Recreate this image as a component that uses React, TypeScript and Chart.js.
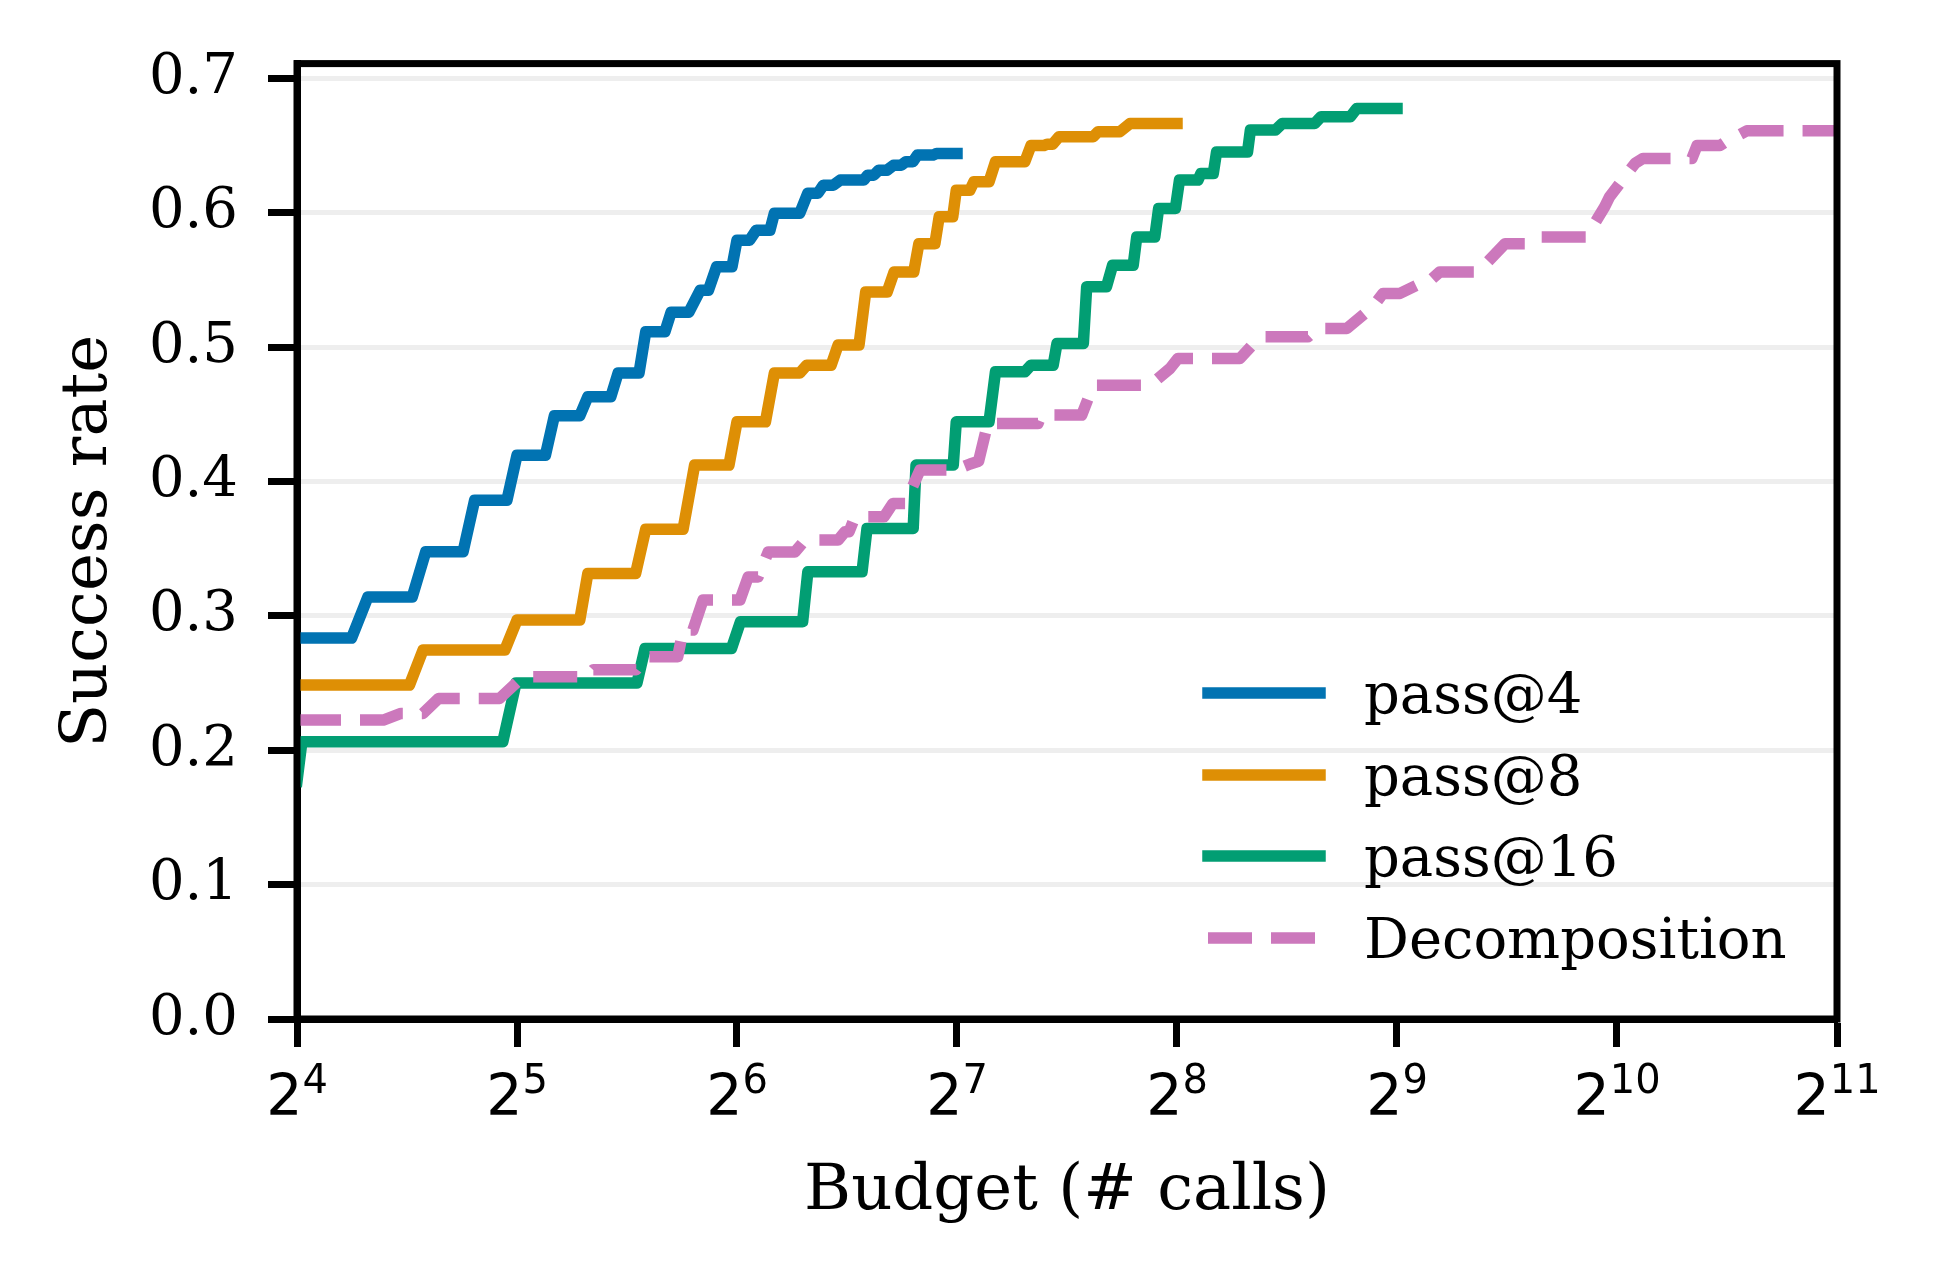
import React, { useEffect, useRef } from 'react';
import { Chart, registerables } from 'chart.js';

Chart.register(...registerables);

const W = 1940;
const H = 1284;
const SERIF = "'DejaVu Serif', serif";
const SANS = "'DejaVu Sans', sans-serif";

// ---- data ----
const xTickValues = [16, 32, 64, 128, 256, 512, 1024, 2048];
const yTickValues = [0, 0.1, 0.2, 0.3, 0.4, 0.5, 0.6, 0.7];
const xAxisTitle = 'Budget (# calls)';
const yAxisTitle = 'Success rate';
const seriesNames = ['pass@4', 'pass@8', 'pass@16', 'Decomposition'];
const seriesColors = ['#0173b2', '#de8f05', '#029e73', '#cc78bc'];

const pass4Budget = [16, 19, 20, 23, 24, 27, 28, 31, 32, 35, 36, 39, 40, 43, 44, 47, 48, 51, 52, 55, 57, 58.5, 60, 63, 64, 66.6, 68, 71, 72, 78, 80, 82.6, 84, 86.7, 88.6, 95.4, 96.6, 98.5, 100, 102.7, 104.8, 107.4, 109, 111.4, 113, 118.7, 120, 128];
const pass4Rate = [0.2835, 0.2835, 0.314, 0.314, 0.3477, 0.3477, 0.386, 0.386, 0.4196, 0.4196, 0.449, 0.449, 0.463, 0.463, 0.4807, 0.4807, 0.5114, 0.5114, 0.526, 0.526, 0.5424, 0.5424, 0.5598, 0.5598, 0.5796, 0.5796, 0.587, 0.587, 0.5997, 0.5997, 0.6146, 0.6146, 0.6205, 0.6205, 0.6243, 0.6243, 0.628, 0.628, 0.6317, 0.6317, 0.6354, 0.6354, 0.638, 0.638, 0.6429, 0.6429, 0.6441, 0.6441];

const pass8Budget = [16, 22.8, 23.8, 30.8, 32, 39, 40, 46.5, 48, 54, 56, 62.4, 64, 70, 72, 78, 79.7, 86.1, 88, 94, 96, 102.7, 105, 111.7, 113.5, 119.4, 121, 126.3, 127.7, 133.3, 135, 141.6, 144.5, 158.5, 161.6, 168.4, 170, 173, 176.5, 196.6, 199.6, 213.7, 220.8, 256];
const pass8Rate = [0.2485, 0.2485, 0.2746, 0.2746, 0.2969, 0.2969, 0.3316, 0.3316, 0.3645, 0.3645, 0.4122, 0.4122, 0.4444, 0.4444, 0.4807, 0.4807, 0.4866, 0.4866, 0.5015, 0.5015, 0.541, 0.541, 0.556, 0.556, 0.577, 0.577, 0.597, 0.597, 0.6168, 0.6168, 0.623, 0.623, 0.638, 0.638, 0.65, 0.65, 0.651, 0.651, 0.6565, 0.6565, 0.6602, 0.6602, 0.6664, 0.6664];

const pass16Budget = [16, 16.25, 30.6, 31.9, 46.7, 47.9, 62.9, 64.7, 78.7, 80, 94.9, 96.4, 111.5, 112.5, 126.5, 127.7, 141.6, 144.5, 158.5, 161.6, 173.3, 175.4, 190.6, 192.6, 205, 209, 223, 225.5, 238.7, 241.6, 254.7, 258, 273.5, 276, 287, 290, 319.7, 322.6, 349, 356.5, 395, 403, 442, 451, 512];
const pass16Rate = [0.177, 0.2064, 0.2064, 0.25, 0.25, 0.2758, 0.2758, 0.2956, 0.2956, 0.3328, 0.3328, 0.3651, 0.3651, 0.4122, 0.4122, 0.4444, 0.4444, 0.4816, 0.4816, 0.4866, 0.4866, 0.5027, 0.5027, 0.5449, 0.5449, 0.561, 0.561, 0.582, 0.582, 0.6032, 0.6032, 0.6243, 0.6243, 0.6292, 0.6292, 0.6453, 0.6453, 0.6615, 0.6615, 0.6664, 0.6664, 0.6714, 0.6714, 0.6776, 0.6776];

const decompBudget = [16, 21, 22.2, 23.8, 25, 30.3, 32.6, 39.9, 40.7, 46.6, 48, 53.1, 54, 55.7, 57.5, 64.6, 66.3, 68.4, 70.6, 76.8, 79.3, 88, 89.9, 91.1, 92.8, 101.7, 104.6, 108.7, 113.9, 127.2, 133.4, 137, 141, 165.2, 167, 189.6, 196.7, 235.2, 250.4, 256.8, 312.2, 332.5, 386.8, 397.9, 437.3, 474.7, 489.9, 516.8, 545.3, 559, 586, 660.8, 719.5, 773.6, 798, 930, 985, 1000, 1083.8, 1111.5, 1296.8, 1317.6, 1416.5, 1475.5, 1488, 1542, 2048];
const decompRate = [0.2225, 0.2225, 0.2274, 0.2274, 0.2386, 0.2386, 0.2547, 0.2547, 0.26, 0.26, 0.2696, 0.2696, 0.2894, 0.2894, 0.3118, 0.3118, 0.329, 0.329, 0.3475, 0.3475, 0.3564, 0.3564, 0.3626, 0.3626, 0.3737, 0.3737, 0.3837, 0.3837, 0.4085, 0.4085, 0.413, 0.415, 0.4432, 0.4432, 0.4494, 0.4494, 0.4717, 0.4717, 0.4841, 0.4916, 0.4916, 0.5077, 0.5077, 0.5139, 0.5139, 0.5301, 0.54, 0.54, 0.5461, 0.5461, 0.556, 0.556, 0.577, 0.577, 0.582, 0.582, 0.6044, 0.6118, 0.6367, 0.6404, 0.6404, 0.65, 0.65, 0.6565, 0.6565, 0.661, 0.661];

const seriesBudgets = [pass4Budget, pass8Budget, pass16Budget, decompBudget];
const seriesRates = [pass4Rate, pass8Rate, pass16Rate, decompRate];

const LINE_W = 11.5;
const DASH = [44, 19];

const toPoints = (xs: number[], ys: number[]) => xs.map((x, i) => ({ x, y: ys[i] }));

const frameAndLabelsPlugin = {
  id: 'frameAndLabels',
  afterDraw(chart: any) {
    const { ctx, chartArea: ca } = chart;
    const sx = chart.scales.x;
    ctx.save();
    // top & right spines
    ctx.strokeStyle = '#000';
    ctx.lineWidth = 7;
    ctx.lineJoin = 'miter';
    ctx.lineCap = 'square';
    ctx.strokeRect(ca.left, ca.top, ca.right - ca.left, ca.bottom - ca.top);

    // x tick labels 2^n
    ctx.fillStyle = '#000';
    ctx.textAlign = 'left';
    ctx.textBaseline = 'alphabetic';
    for (const v of xTickValues) {
      const px = sx.getPixelForValue(v);
      const base = '2';
      const exp = String(Math.round(Math.log2(v)));
      ctx.font = `57px ${SANS}`;
      const wb = ctx.measureText(base).width;
      ctx.font = `40px ${SANS}`;
      const we = ctx.measureText(exp).width;
      const left = px - (wb + we) / 2;
      ctx.font = `57px ${SANS}`;
      ctx.fillText(base, left, ca.bottom + 96);
      ctx.font = `40px ${SANS}`;
      ctx.fillText(exp, left + wb, ca.bottom + 74);
    }

    // legend
    const rowOffsets = [326, 244, 163, 81];
    const x1 = ca.right - 629;
    const x2 = ca.right - 517;
    const tx = ca.right - 473;
    seriesNames.forEach((name, i) => {
      const y = ca.bottom - rowOffsets[i];
      ctx.beginPath();
      ctx.strokeStyle = seriesColors[i];
      ctx.lineWidth = LINE_W;
      if (i === 3) {
        ctx.setLineDash(DASH);
        ctx.lineCap = 'butt';
      } else {
        ctx.setLineDash([]);
        ctx.lineCap = 'square';
      }
      ctx.moveTo(x1, y);
      ctx.lineTo(x2, y);
      ctx.stroke();
      ctx.setLineDash([]);
      ctx.fillStyle = '#000';
      ctx.font = `56px ${SERIF}`;
      ctx.fillText(name, tx, y + 20);
    });
    ctx.restore();
  },
};

export default function App() {
  const ref = useRef<HTMLCanvasElement>(null);
  useEffect(() => {
    const canvas = ref.current;
    if (!canvas) return;
    const datasets = seriesNames.map((name, i) => ({
      label: name,
      data: toPoints(seriesBudgets[i], seriesRates[i]),
      borderColor: seriesColors[i],
      backgroundColor: seriesColors[i],
      borderWidth: LINE_W,
      borderDash: i === 3 ? DASH : [],
      borderCapStyle: i === 3 ? 'butt' : 'square',
      borderJoinStyle: 'round',
      pointRadius: 0,
      pointHoverRadius: 0,
      tension: 0,
      fill: false,
      order: 4 - i,
    }));
    const chart = new Chart(canvas, {
      type: 'line',
      data: { datasets } as any,
      options: {
        animation: false,
        responsive: false,
        devicePixelRatio: 1,
        events: [],
        layout: { padding: { left: 0, top: 63, right: 103, bottom: 0 } },
        plugins: {
          legend: { display: false },
          tooltip: { enabled: false },
        },
        scales: {
          x: {
            type: 'logarithmic',
            min: 16,
            max: 2048,
            afterBuildTicks: (scale: any) => {
              scale.ticks = xTickValues.map((v) => ({ value: v }));
            },
            afterFit: (scale: any) => {
              scale.height = H - 1019;
            },
            ticks: { display: false },
            grid: {
              display: true,
              drawOnChartArea: false,
              drawTicks: true,
              tickLength: 28,
              tickWidth: 7,
              tickColor: '#000',
            },
            border: { display: true, color: '#000', width: 7 },
            title: {
              display: true,
              text: xAxisTitle,
              color: '#000',
              font: { family: SERIF, size: 64 },
              padding: { top: 0, bottom: 53 },
            },
          },
          y: {
            type: 'linear',
            min: 0,
            max: 0.711,
            afterBuildTicks: (scale: any) => {
              scale.ticks = yTickValues.map((v) => ({ value: v }));
            },
            afterFit: (scale: any) => {
              scale.width = 297;
            },
            ticks: {
              color: '#000',
              font: { family: SERIF, size: 56 },
              padding: 30,
              callback: (v: any) => Number(v).toFixed(1),
            },
            grid: {
              display: true,
              color: '#eeeeee',
              lineWidth: 5,
              drawTicks: true,
              tickLength: 29,
              tickWidth: 7,
              tickColor: '#000',
            },
            border: { display: true, color: '#000', width: 7 },
            title: {
              display: true,
              text: yAxisTitle,
              color: '#000',
              font: { family: SERIF, size: 64 },
              padding: { top: 51, bottom: 0 },
            },
          },
        },
      } as any,
      plugins: [frameAndLabelsPlugin],
    });
    return () => chart.destroy();
  }, []);
  return (
    <div style={{ position: 'absolute', left: 0, top: 0, width: W, height: H, background: '#fff' }}>
      <canvas ref={ref} width={W} height={H} style={{ display: 'block', width: W, height: H }} />
    </div>
  );
}
